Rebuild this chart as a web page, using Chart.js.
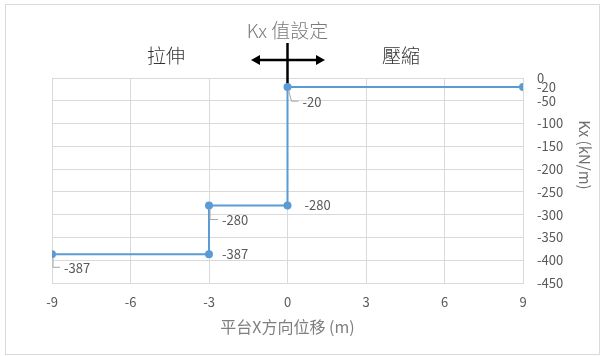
<!DOCTYPE html>
<html>
<head>
<meta charset="utf-8">
<script src="https://cdn.jsdelivr.net/npm/chart.js@4/dist/chart.umd.min.js"></script>
<style>
  html, body { margin: 0; padding: 0; background: #ffffff; }
  #wrap { width: 603px; height: 356px; position: relative; }
</style>
</head>
<body>
<div id="wrap"><canvas id="chart" width="603" height="356"></canvas></div>
<script>
// Kx stiffness step curve vs. platform X displacement
const displacement = [-9, -3, -3, 0, 0, 9];          // m
const stiffness    = [-387, -387, -280, -280, -20, -20]; // kN/m
const xTicks = [-9, -6, -3, 0, 3, 6, 9];
const yTicks = [0, -50, -100, -150, -200, -250, -300, -350, -400, -450];

const headerText = 'Kx 值設定';
const tensionText = '拉伸';
const compressionText = '壓縮';
const xTitleText = '平台X方向位移 (m)';
const yTitleText = 'Kx (kN/m)';

const FONT = "'Noto Sans CJK TC', 'Noto Sans', sans-serif";
Chart.defaults.font.family = FONT;

const LINE = '#5B9BD5';
const GRID = '#D9D9D9';

// label placement per point: offset from the marker, optional leader line
const labelPlacement = [
  { dx: 12, dy: 14, leader: 1 },
  { dx: 13, dy: 0 },
  { dx: 13, dy: 15, leader: 1 },
  { dx: 17, dy: 0 },
  { dx: 15, dy: 15, leader: 4 },
  { dx: 14, dy: 0 }
];

const points = displacement.map((x, i) => ({ x: x, y: stiffness[i] }));

const decorations = {
  id: 'decorations',
  beforeDraw(chart) {
    const ctx = chart.ctx;
    ctx.save();
    ctx.fillStyle = '#ffffff';
    ctx.fillRect(0, 0, chart.width, chart.height);
    ctx.strokeStyle = '#D9D9D9';
    ctx.lineWidth = 1;
    ctx.strokeRect(5.5, 4.5, 594, 350);
    ctx.restore();
  },
  beforeDatasetsDraw(chart) {
    const ctx = chart.ctx;
    const xs = chart.scales.x, ys = chart.scales.y;
    const cx = xs.getPixelForValue(0);
    ctx.save();
    // header
    ctx.fillStyle = '#7a7a7a';
    ctx.font = '300 19px ' + FONT;
    ctx.textAlign = 'center';
    ctx.textBaseline = 'middle';
    ctx.fillText(headerText, cx, 31);
    // side captions
    ctx.fillStyle = '#333333';
    ctx.font = '300 19px ' + FONT;
    ctx.fillText(tensionText, 166, 56);
    ctx.fillText(compressionText, 401, 56);
    // vertical marker at zero displacement
    ctx.strokeStyle = '#000000';
    ctx.lineWidth = 2.5;
    ctx.beginPath();
    ctx.moveTo(cx, 43);
    ctx.lineTo(cx, ys.getPixelForValue(stiffness[4]));
    ctx.stroke();
    // double-headed arrow
    const ay = 60, ax1 = 251, ax2 = 325, head = 9, half = 5;
    ctx.beginPath();
    ctx.moveTo(ax1 + head - 1, ay);
    ctx.lineTo(ax2 - head + 1, ay);
    ctx.stroke();
    ctx.fillStyle = '#000000';
    ctx.beginPath();
    ctx.moveTo(ax1, ay);
    ctx.lineTo(ax1 + head, ay - half);
    ctx.lineTo(ax1 + head, ay + half);
    ctx.closePath();
    ctx.fill();
    ctx.beginPath();
    ctx.moveTo(ax2, ay);
    ctx.lineTo(ax2 - head, ay - half);
    ctx.lineTo(ax2 - head, ay + half);
    ctx.closePath();
    ctx.fill();
    ctx.restore();
  },
  afterDatasetsDraw(chart) {
    const ctx = chart.ctx;
    const meta = chart.getDatasetMeta(0);
    ctx.save();
    ctx.font = '13px ' + FONT;
    ctx.textAlign = 'left';
    ctx.textBaseline = 'middle';
    meta.data.forEach((el, i) => {
      const p = labelPlacement[i];
      const px = el.x, py = el.y;
      if (p.leader) {
        ctx.strokeStyle = '#A6A6A6';
        ctx.lineWidth = 1;
        ctx.beginPath();
        ctx.moveTo(px + 1, py + 3);
        ctx.lineTo(px + p.leader, py + p.dy - 1);
        ctx.lineTo(px + p.dx - 4, py + p.dy - 1);
        ctx.stroke();
      }
      ctx.fillStyle = '#595959';
      ctx.fillText(String(stiffness[i]), px + p.dx, py + p.dy);
    });
    // y axis title
    ctx.fillStyle = '#6f6f6f';
    ctx.font = '15px ' + FONT;
    ctx.textAlign = 'center';
    ctx.translate(585, 155);
    ctx.rotate(Math.PI / 2);
    ctx.fillText(yTitleText, 0, 0);
    ctx.restore();
  }
};

new Chart(document.getElementById('chart'), {
  type: 'scatter',
  data: {
    datasets: [{
      data: points,
      showLine: true,
      borderColor: LINE,
      backgroundColor: LINE,
      borderWidth: 2,
      pointRadius: 4,
      pointHoverRadius: 4,
      pointBorderWidth: 0,
      tension: 0
    }]
  },
  options: {
    responsive: false,
    animation: false,
    devicePixelRatio: 1,
    layout: { padding: { top: 78, left: 52, right: 0, bottom: 0 } },
    plugins: { legend: { display: false }, tooltip: { enabled: false } },
    scales: {
      x: {
        type: 'linear',
        position: 'bottom',
        min: xTicks[0],
        max: xTicks[xTicks.length - 1],
        afterBuildTicks(scale) { scale.ticks = xTicks.map(v => ({ value: v })); },
        afterFit(scale) { scale.height = 73; },
        grid: { color: GRID, lineWidth: 1, drawTicks: false },
        border: { color: GRID },
        ticks: { color: '#595959', font: { size: 13 }, padding: 11, maxRotation: 0 },
        title: {
          display: true,
          text: xTitleText,
          color: '#7f7f7f',
          font: { size: 16 },
          padding: { top: 0, bottom: 19 }
        }
      },
      y: {
        type: 'linear',
        position: 'right',
        min: yTicks[yTicks.length - 1],
        max: yTicks[0],
        afterBuildTicks(scale) { scale.ticks = yTicks.map(v => ({ value: v })); },
        afterFit(scale) { scale.width = 80; },
        grid: { color: GRID, lineWidth: 1, drawTicks: false },
        border: { color: GRID },
        ticks: { color: '#595959', font: { size: 13 }, padding: 14 }
      }
    }
  },
  plugins: [decorations]
});
</script>
</body>
</html>
